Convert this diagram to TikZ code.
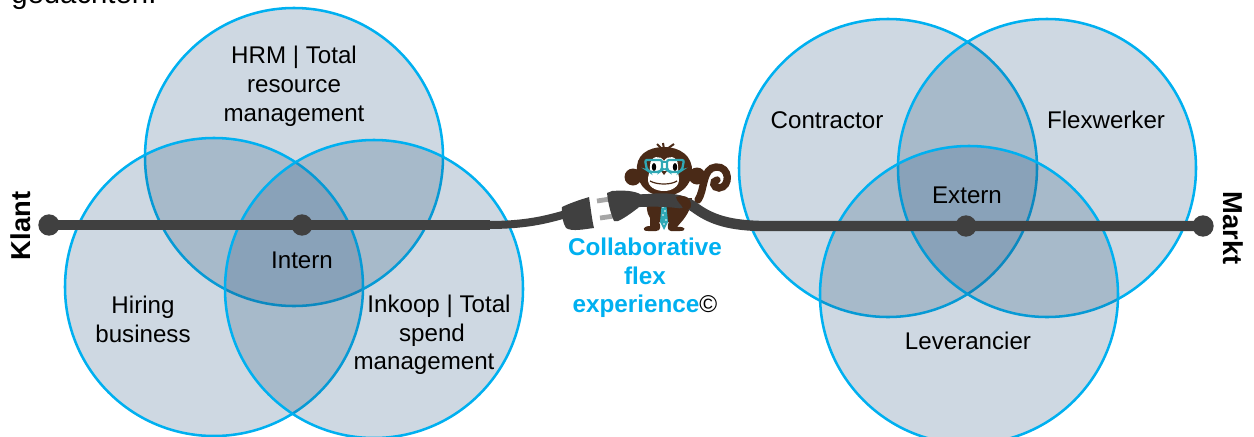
\documentclass[tikz,border=0pt]{standalone}
\usepackage{fontspec}
\setmainfont{Liberation Sans}
\definecolor{ringblue}{HTML}{00B0F0}
\definecolor{vennfill}{HTML}{1F4E79}
\definecolor{cable}{HTML}{404040}
\definecolor{monkeybrown}{HTML}{4A2A17}
\definecolor{teal}{HTML}{2FA8B5}
\tikzset{
  venn/.style={circle,minimum size=223.5pt,inner sep=0pt,draw=ringblue,line width=1.9pt,fill=vennfill,fill opacity=.22,draw opacity=1},
  lbl/.style={align=center,font=\fontsize{18.1}{21.6}\selectfont,text=black,inner sep=0pt},
  brandlbl/.style={align=center,font=\fontsize{18.2}{21.4}\selectfont\bfseries,text=ringblue,inner sep=0pt},
  sidelbl/.style={font=\fontsize{20.5}{22}\selectfont\bfseries,text=black,inner sep=0pt},
  dot/.style={circle,fill=cable,minimum size=16pt,inner sep=0pt},
  cord/.style={draw=cable,line width=7.8pt},
  cordthin/.style={draw=cable,line width=6pt},
}
\begin{document}
\begin{tikzpicture}[x=0.75pt,y=-0.75pt]
\useasboundingbox (0,0) rectangle (1254,436);
\clip (0,0) rectangle (1254,436);
\node[font=\fontsize{22}{24}\selectfont,anchor=base west,inner sep=0pt] at (11,3) {gedachten.};
% left venn
\node[venn] (hrm) at (294,157) {};
\node[venn] (hire) at (214,287) {};
\node[venn] (inkoop) at (374,289) {};
% right venn
\node[venn] (contr) at (888,168) {};
\node[venn] (flex) at (1047,168) {};
\node[venn] (lever) at (969,295) {};
% cable
\node[dot] (klant) at (49,225) {};
\node[dot] (intern) at (302,225) {};
\node[dot] (extern) at (966,226) {};
\node[dot] (markt) at (1203,226) {};
\coordinate (plugL) at (566,214);
\draw[cord] (klant.center) -- (intern.center) -- (490,225);
\draw[cordthin] (488,225) .. controls (525,225) and (545,220) .. (plugL);
% female plug
\fill[cable] (562,207) .. controls (568,204) and (579,200) .. (586,198) -- (589,197) .. controls (591,210) and (592,220) .. (594,228) .. controls (585,229) and (572,232) .. (566,228) .. controls (563,223) and (561,215) .. (562,207) -- cycle;
% tail
\draw[monkeybrown,line width=5.5pt,line cap=round] (698,200) .. controls (705,190) and (702,168) .. (716,167) .. controls (730,166) and (731,187) .. (719,188) .. controls (713,188) and (712,181) .. (717,180);
% ears
\fill[monkeybrown] (633,177) circle[radius=8.5];
\fill[monkeybrown] (697,176) circle[radius=8.5];
% legs and feet
\fill[monkeybrown] (648,198) -- (692,198) .. controls (692,208) and (686,216) .. (683,220) -- (677,227) .. controls (686,226) and (687,231) .. (680,231) -- (671,231) .. controls (667,231) and (667,225) .. (669,222) -- (659,222) .. controls (661,226) and (661,231) .. (656,231) -- (648,231) .. controls (641,231) and (643,226) .. (650,226) -- (650,218) .. controls (646,212) and (646,204) .. (648,198) -- cycle;
% head
\fill[monkeybrown] (637,172) .. controls (635,155) and (648,147) .. (664,147) .. controls (680,147) and (693,156) .. (692,172) .. controls (691,186) and (680,196) .. (664,196) .. controls (649,196) and (638,186) .. (637,172) -- cycle;
% hair
\draw[monkeybrown,line width=1.5pt] (662,149) -- (657,144) (664,149) -- (663,143) (667,149) -- (674,144);
% face
\fill[white] (650,166) .. controls (650,155) and (661,155) .. (664,161) .. controls (667,155) and (678,155) .. (678,166) .. controls (678,171) and (678,173) .. (679,178) .. controls (680,187) and (671,191) .. (664,191) .. controls (656,191) and (647,187) .. (648,178) .. controls (649,173) and (650,171) .. (650,166) -- cycle;
\draw[monkeybrown,line width=.9pt] (650,181) .. controls (657,185) and (671,185) .. (677,181);
\fill[black] (654,167) ellipse[x radius=2.2,y radius=4];
\fill[black] (675,167) ellipse[x radius=2.2,y radius=4];
\fill[monkeybrown] (661,171) -- (667,171) -- (664,175) -- cycle;
% glasses
\draw[teal,line width=1.7pt,rounded corners=1.5pt] (645,160) -- (662,160) -- (662,170) -- (659,172) -- (650,172) -- (647,170) -- cycle;
\draw[teal,line width=1.7pt,rounded corners=1.5pt] (684,160) -- (667,160) -- (667,170) -- (670,172) -- (679,172) -- (682,170) -- cycle;
\draw[teal,line width=1.7pt] (662,162) -- (667,162);
% tie
\fill[teal] (660,194) -- (668,194) -- (666,201) -- (668,222) -- (664,230) -- (660,222) -- (662,201) -- cycle;
\fill[white] (663,207) circle[radius=.9] (665,211) circle[radius=.9] (663,215) circle[radius=.9] (666,220) circle[radius=.9] (664,224) circle[radius=.9];
% prongs
\draw[line width=3.6pt,draw=black!35] (597,201) -- (610,199);
\draw[line width=3.6pt,draw=black!35] (600,218) -- (614,216);
% male plug
\fill[cable] (607,193) -- (612,191) .. controls (625,190) and (634,191) .. (640,194) .. controls (644,199) and (642,205) .. (638,208) .. controls (630,214) and (623,219) .. (618,221) -- (614,221) .. controls (610,212) and (608,202) .. (607,193) -- cycle;
% right cord
\draw[draw=cable,line width=9.5pt,line cap=round] (634,201) .. controls (650,200) and (665,200) .. (680,202);
\draw[cord] (634,201) .. controls (660,197) and (680,197) .. (694,207) .. controls (709,218) and (725,225) .. (760,226) -- (extern.center) -- (markt.center);
% hand over cord
\fill[monkeybrown] (676,197) .. controls (684,194) and (690,197) .. (691,204) .. controls (692,210) and (686,211) .. (683,208) .. controls (681,204) and (677,202) .. (676,197) -- cycle;
% labels
\node[lbl] (t1) at (294,86) {HRM | Total\\resource\\management};
\node[lbl] (t2) at (143,319) {Hiring\\business};
\node[lbl] (t3) at (302,260) {Intern};
\node[lbl,anchor=base] (t4a) at (439,312) {Inkoop | Total};
\node[lbl,anchor=base] (t4b) at (432,341) {spend};
\node[lbl,anchor=base] (t4c) at (424,369) {management};
\node[lbl] (t5) at (827,120) {Contractor};
\node[lbl] (t6) at (1106,120) {Flexwerker};
\node[lbl] (t7) at (967,195) {Extern};
\node[lbl] (t8) at (968,341) {Leverancier};
\node[brandlbl] (t9) at (645,278) {Collaborative\\flex\\experience{\normalfont\textcolor{black}{©}}};
\node[sidelbl,rotate=90] (t10) at (21,226) {Klant};
\node[sidelbl,rotate=-90] (t11) at (1233,228) {Markt};
\end{tikzpicture}
\end{document}
